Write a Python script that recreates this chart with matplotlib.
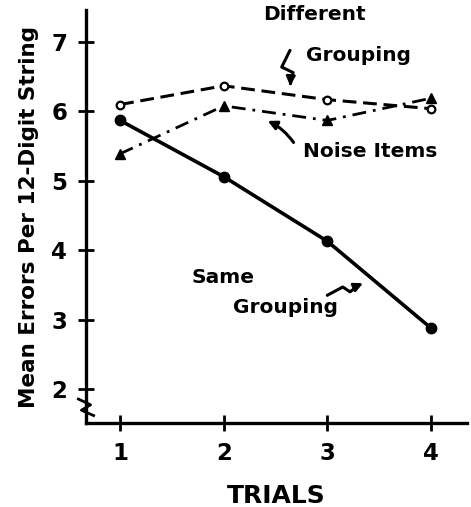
import matplotlib.pyplot as plt
import numpy as np

plt.rcParams['font.family'] = ['DejaVu Sans']
plt.rcParams['font.weight'] = 'bold'

trials = [1, 2, 3, 4]
same_grouping = [5.87, 5.06, 4.13, 2.88]
different_grouping = [6.10, 6.37, 6.17, 6.04]
noise_items = [5.39, 6.08, 5.87, 6.19]
y_ticks = [2, 3, 4, 5, 6, 7]

fig = plt.figure(figsize=(4.71, 5.07), dpi=100)
ax = fig.add_axes([0.1826, 0.1657, 0.809, 0.8143])

ax.plot(trials, same_grouping, '-', color='black', lw=2.6,
        marker='o', markersize=7.5, markerfacecolor='black', zorder=3)
ax.plot(trials, different_grouping, color='black', lw=2.2, ls=(0, (4.5, 2.2)),
        marker='o', markersize=5.5, markerfacecolor='white', markeredgewidth=1.6, zorder=4)
ax.plot(trials, noise_items, color='black', lw=2.0, ls=(0, (5, 2.5, 1, 2.5)),
        marker='^', markersize=7, markerfacecolor='black', zorder=3)

ax.set_xlim(0.67, 4.35)
ax.set_ylim(1.51, 7.46)
ax.set_xticks(trials)
ax.set_yticks(y_ticks)

for s in ['top', 'right']:
    ax.spines[s].set_visible(False)
for s in ['left', 'bottom']:
    ax.spines[s].set_linewidth(2.4)
ax.tick_params(direction='inout', length=11, width=2, labelsize=16.5, pad=8)
ax.tick_params(axis='x', pad=8)

ax.set_ylabel('Mean Errors Per 12-Digit String', fontsize=15.5, fontweight='bold', labelpad=9)
ax.set_xlabel('TRIALS', fontsize=18, fontweight='bold', labelpad=14)

# axis break mark
ax.plot([-0.02, 0.012, -0.012, 0.02], [0.058, 0.044, 0.031, 0.018],
        transform=ax.transAxes, color='black', lw=2, clip_on=False)

# labels with squiggly arrows
ax.text(2.88, 7.40, 'Different', fontsize=14.5, fontweight='bold', ha='center', va='center')
ax.text(3.30, 6.80, 'Grouping', fontsize=14.5, fontweight='bold', ha='center', va='center')
ax.plot([2.64, 2.56, 2.67, 2.645], [6.88, 6.64, 6.56, 6.40], color='black', lw=2.2,
        solid_capstyle='round')
ax.annotate('', xy=(2.64, 6.33), xytext=(2.645, 6.45),
            arrowprops=dict(arrowstyle='-|>', color='black', lw=2, mutation_scale=13))

ax.text(3.41, 5.42, 'Noise Items', fontsize=14.5, fontweight='bold', ha='center', va='center')
ax.annotate('', xy=(2.40, 5.88), xytext=(2.69, 5.52),
            arrowprops=dict(arrowstyle='-|>', color='black', lw=2.2, mutation_scale=13,
                            connectionstyle='arc3,rad=0.15'))

ax.text(1.99, 3.61, 'Same', fontsize=14.5, fontweight='bold', ha='center', va='center')
ax.text(2.60, 3.17, 'Grouping', fontsize=14.5, fontweight='bold', ha='center', va='center')
ax.plot([3.00, 3.15, 3.22, 3.30], [3.35, 3.47, 3.40, 3.49], color='black', lw=2.2,
        solid_capstyle='round')
ax.annotate('', xy=(3.37, 3.54), xytext=(3.28, 3.48),
            arrowprops=dict(arrowstyle='-|>', color='black', lw=2, mutation_scale=13))

fig.savefig('out.png', dpi=100)
